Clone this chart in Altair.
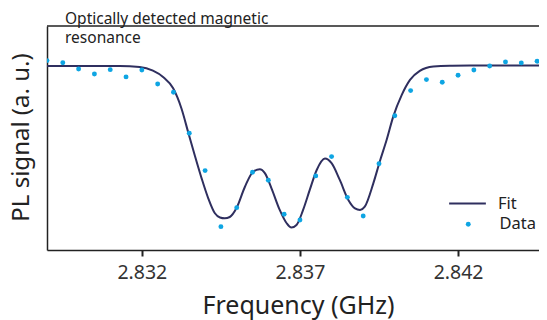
import altair as alt
import pandas as pd

# Measured data points (frequency in GHz, normalised PL signal)
data_freq = [2.8290, 2.8295, 2.8300, 2.8305, 2.8310, 2.8315, 2.8320, 2.8325,
             2.8330, 2.8335, 2.8340, 2.8345, 2.8350, 2.8355, 2.8360, 2.8365,
             2.8370, 2.8375, 2.8380, 2.8385, 2.8390, 2.8395, 2.8400, 2.8405,
             2.8410, 2.8415, 2.8420, 2.8425, 2.8430, 2.8435, 2.8440, 2.8445]
data_pl = [1.0033, 1.0020, 0.9981, 0.9950, 0.9977, 0.9932, 0.9975, 0.9888,
           0.9837, 0.9582, 0.9350, 0.9002, 0.9120, 0.9340, 0.9290, 0.9079,
           0.9043, 0.9317, 0.9437, 0.9184, 0.9068, 0.9393, 0.9691, 0.9847,
           0.9915, 0.9899, 0.9942, 0.9975, 1.0000, 1.0025, 1.0019, 1.0029]

# Fit curve
fit_freq = [2.8290, 2.83067, 2.83130, 2.83193, 2.83235, 2.83267, 2.83299, 2.83325,
            2.83346, 2.83367, 2.83389, 2.83410, 2.83431, 2.83447, 2.83462, 2.83478,
            2.83499, 2.83526, 2.83552, 2.83573, 2.83589, 2.83610, 2.83636, 2.83658,
            2.83673, 2.83689, 2.83710, 2.83731, 2.83753, 2.83779, 2.83800, 2.83826,
            2.83853, 2.83874, 2.83890, 2.83905, 2.83932, 2.83953, 2.83974, 2.83995,
            2.84022, 2.84048, 2.84079, 2.84122, 2.84174, 2.84238, 2.84481]
fit_pl = [1.0000, 1.0000, 1.0000, 0.9994, 0.9971, 0.9932, 0.9861, 0.9737,
          0.9592, 0.9447, 0.9302, 0.9178, 0.9085, 0.9059, 0.9054, 0.9062,
          0.9116, 0.9250, 0.9343, 0.9358, 0.9334, 0.9240, 0.9106, 0.9023,
          0.8996, 0.9012, 0.9106, 0.9230, 0.9354, 0.9425, 0.9396, 0.9292,
          0.9168, 0.9116, 0.9106, 0.9126, 0.9271, 0.9410, 0.9540, 0.9685,
          0.9820, 0.9913, 0.9969, 0.9996, 1.0001, 1.0002, 1.0002]

x_ticks = [2.832, 2.837, 2.842]
x_domain = [2.829, 2.84456]
y_domain = [0.8857, 1.0248]

NAVY = "#2f2f5f"
BLUE = "#0ea5e3"
FONT = "Noto Sans"
W, H = 492, 224

pts = pd.DataFrame({"freq": data_freq, "pl": data_pl, "series": "Data"})
fit = pd.DataFrame({"freq": fit_freq, "pl": fit_pl, "series": "Fit"})

xs = alt.Scale(domain=x_domain, nice=False, zero=False)
ys = alt.Scale(domain=y_domain, nice=False, zero=False)

x_enc = alt.X("freq:Q", scale=xs,
              axis=alt.Axis(values=x_ticks, format=".3f", title="Frequency (GHz)",
                            grid=False, tickSize=6, tickWidth=2, tickColor="#222",
                            domainColor="#222", domainWidth=1.5,
                            labelFontSize=19.5, labelColor="#333", labelPadding=7,
                            titleFontSize=25, titleFontWeight="normal",
                            titleColor="#222", titleBaseline="alphabetic",
                            titleX=251, titleY=63, labelFont=FONT, titleFont=FONT))
y_enc = alt.Y("pl:Q", scale=ys,
              axis=alt.Axis(title="PL signal (a. u.)", labels=False, ticks=False,
                            grid=False, domainColor="#222", domainWidth=1.5,
                            titleFontSize=24, titleFontWeight="normal",
                            titleColor="#222", titleBaseline="alphabetic",
                            titleX=-19, titleY=111, titleFont=FONT))

line = alt.Chart(fit).mark_line(strokeWidth=2, interpolate="monotone", clip=True).encode(
    x=x_enc, y=y_enc,
    color=alt.Color("series:N", scale=alt.Scale(domain=["Fit"], range=[NAVY]),
                    legend=alt.Legend(title=None, orient="none", legendX=401, legendY=158,
                                      symbolSize=1350, symbolStrokeWidth=2,
                                      labelFontSize=16.5, labelOffset=11, labelFont=FONT,
                                      labelColor="#222", padding=0)),
)

points = alt.Chart(pts).mark_point(filled=True, size=24, opacity=1, clip=True).encode(
    x=x_enc, y=y_enc,
    fill=alt.Fill("series:N", scale=alt.Scale(domain=["Data"], range=[BLUE]),
                  legend=alt.Legend(title=None, orient="none", legendX=413, legendY=190,
                                    symbolSize=24, labelFontSize=16.5, labelOffset=23,
                                    labelFont=FONT, labelColor="#222", padding=0,
                                    symbolStrokeWidth=0)),
)

border = alt.Chart(pd.DataFrame({"k": [0]})).mark_rule(color="#222", strokeWidth=1.5).encode(
    x=alt.value(0), x2=alt.value(W), y=alt.value(0)
)

chart = alt.layer(line, points, border).properties(
    width=W, height=H,
    autosize=alt.AutoSizeParams(type="none"),
    padding={"left": 39, "right": 0, "top": 18, "bottom": 70},
    title=alt.TitleParams(["Optically detected magnetic", "resonance"], anchor="start",
                          frame="group",
                          fontSize=15.5, fontWeight="normal", font=FONT, color="#222",
                          dx=18, offset=-21, lineHeight=18.5),
).configure_view(stroke=None)

chart.save("out.html", embed_options={"renderer": "svg", "actions": False})
